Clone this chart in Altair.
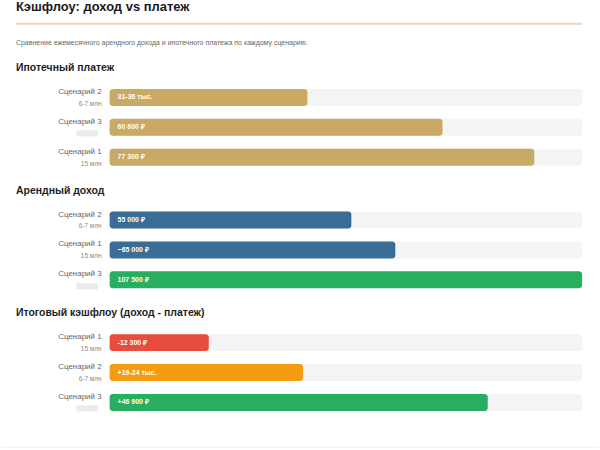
import altair as alt
import pandas as pd

FONT = "Liberation Sans"

# Section: mortgage payment
mort_scen = ["Сценарий 2", "Сценарий 3", "Сценарий 1"]
mort_sub = ["6-7 млн", "", "15 млн"]
mort_val = [36000, 60600, 77300]
mort_lbl = ["31-36 тыс.", "60 600 ₽", "77 300 ₽"]
mort_col = ["#C9A963", "#C9A963", "#C9A963"]
mort_max = 86000

# Section: rental income
rent_scen = ["Сценарий 2", "Сценарий 1", "Сценарий 3"]
rent_sub = ["6-7 млн", "15 млн", ""]
rent_val = [55000, 65000, 107500]
rent_lbl = ["55 000 ₽", "~65 000 ₽", "107 500 ₽"]
rent_col = ["#3A6D95", "#3A6D95", "#27AE60"]
rent_max = 107500

# Section: net cash flow (income - payment)
cash_scen = ["Сценарий 1", "Сценарий 2", "Сценарий 3"]
cash_sub = ["15 млн", "6-7 млн", ""]
cash_val = [-12300, 24000, 46900]
cash_lbl = ["-12 300 ₽", "+19-24 тыс.", "+46 900 ₽"]
cash_col = ["#E74C3C", "#F39C12", "#27AE60"]
cash_max = 58600

W = 600
ROW_H = 90


def section(title, scen, sub, val, lbl, col, dmax):
    df = pd.DataFrame({
        "scenario": scen,
        "sub": sub,
        "value": [abs(v) for v in val],
        "label": lbl,
        "color": col,
    })
    x_scale = alt.Scale(domain=[0, dmax], range=[109, 583], nice=False, zero=True)
    y = alt.Y("scenario:N", sort=scen, axis=None,
              scale=alt.Scale(paddingInner=0, paddingOuter=0))
    base = alt.Chart(df).transform_calculate(zero="0", full=str(dmax))

    # light grey track spanning the whole scale
    track = base.mark_bar(height=17, cornerRadius=3, color="#F4F4F4").encode(
        x=alt.X("zero:Q", scale=x_scale, axis=None),
        x2="full:Q",
        y=y,
    )
    bars = base.mark_bar(height=17, cornerRadius=3).encode(
        x=alt.X("zero:Q", scale=x_scale, axis=None),
        x2="value:Q",
        y=y,
        color=alt.Color("color:N", scale=None),
    )
    vals = base.mark_text(align="left", dx=8, color="white", fontWeight="bold",
                          fontSize=7, font=FONT).encode(
        x=alt.X("zero:Q", scale=x_scale, axis=None), y=y, text="label:N")
    names = base.mark_text(align="right", dy=-5.5, color="#666666",
                           fontSize=8, font=FONT).encode(
        x=alt.value(101), y=y, text="scenario:N")
    subs = base.mark_text(align="right", dy=6.5, color="#8A8A8A",
                          fontSize=6.5, font=FONT).encode(
        x=alt.value(101), y=y, text="sub:N")
    # masked size note for the third scenario
    hidden = base.transform_filter("datum.sub == ''").mark_text(
        align="right", dy=6, color="#E4E4E4", opacity=0.75,
        fontSize=5, font=FONT, text="██████").encode(
        x=alt.value(97), y=y)

    return alt.layer(track, bars, vals, names, subs, hidden).properties(
        width=W, height=ROW_H,
        title=alt.TitleParams(title, anchor="start", dx=15, offset=9,
                              fontSize=10.5, fontWeight="bold", color="#1E1E1E",
                              font=FONT, frame="group"),
    )


hdr = pd.DataFrame({"t": ["Кэшфлоу: доход vs платеж"],
                    "s": ["Сравнение ежемесячного арендного дохода и ипотечного платежа по каждому сценарию."]})
head_base = alt.Chart(hdr)
head = alt.layer(
    head_base.mark_text(align="left", baseline="alphabetic", fontSize=13,
                        fontWeight="bold", color="#1A1A1A", font=FONT).encode(
        x=alt.value(15), y=alt.value(10), text="t:N"),
    head_base.mark_rule(color="#E9D8B0", strokeWidth=2).encode(
        x=alt.value(15), x2=alt.value(583), y=alt.value(23)),
    head_base.mark_text(align="left", baseline="middle", fontSize=7,
                        color="#666666", font=FONT).encode(
        x=alt.value(15), y=alt.value(42), text="s:N"),
).properties(width=W, height=49)

foot = head_base.mark_rule(color="#EEEEEE", strokeWidth=1).encode(
    x=alt.value(0), x2=alt.value(W), y=alt.value(17)).properties(width=W, height=17)

chart = alt.vconcat(
    head,
    section("Ипотечный платеж", mort_scen, mort_sub, mort_val, mort_lbl, mort_col, mort_max),
    section("Арендный доход", rent_scen, rent_sub, rent_val, rent_lbl, rent_col, rent_max),
    section("Итоговый кэшфлоу (доход - платеж)", cash_scen, cash_sub, cash_val, cash_lbl, cash_col, cash_max),
    foot,
    spacing=13,
).resolve_scale(x="independent", y="independent").properties(
    padding=0, background="white"
).configure_view(stroke=None)

chart.save("out.html", embed_options={"renderer": "svg", "actions": False})
